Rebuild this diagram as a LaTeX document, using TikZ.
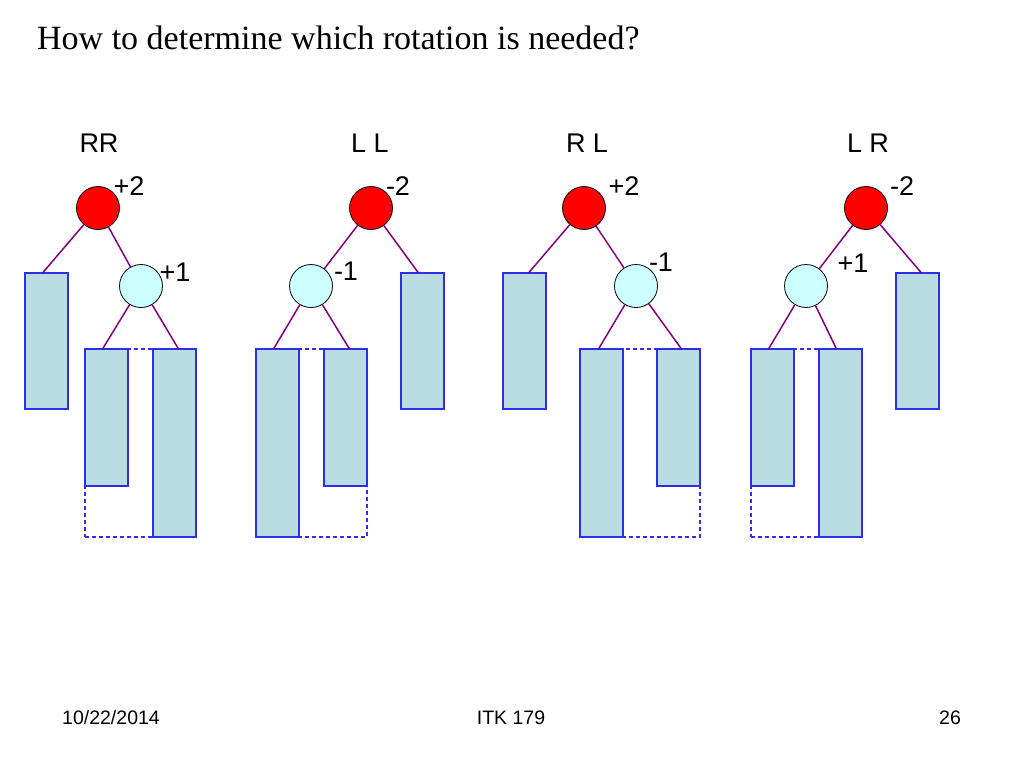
\documentclass[tikz,border=0pt]{standalone}
\usepackage{fontspec}
\setmainfont{Liberation Serif}
\newfontfamily\lsans{Liberation Sans}
\usetikzlibrary{fit}
\definecolor{edgepurple}{HTML}{800080}
\definecolor{rootred}{HTML}{FF0000}
\definecolor{kidcyan}{HTML}{CCFFFF}
\definecolor{boxfill}{HTML}{B9DDE2}
\definecolor{boxline}{HTML}{2E2EE6}
\tikzset{
  rootnode/.style={circle, draw=black, line width=0.8pt, fill=rootred, minimum size=43pt, inner sep=0pt},
  kidnode/.style={circle, draw=black, line width=0.8pt, fill=kidcyan, minimum size=43pt, inner sep=0pt},
  subtree/.style={rectangle, draw=boxline, line width=1.3pt, fill=boxfill, minimum width=43pt, inner sep=0pt, outer sep=0pt, anchor=north west},
  shorttree/.style={subtree, minimum height=137pt},
  longtree/.style={subtree, minimum height=188pt},
  dashbox/.style={rectangle, draw=boxline, line width=1.2pt, inner sep=0pt, dash pattern=on 4pt off 3pt},
  edge/.style={draw=edgepurple, line width=1.5pt},
  lbl/.style={font=\lsans\fontsize{27}{30}\selectfont, inner sep=0pt},
  foot/.style={font=\lsans\fontsize{19.5}{22}\selectfont, inner sep=0pt}
}
\begin{document}
\begin{tikzpicture}[x=1pt,y=-1pt]
\useasboundingbox (0,0) rectangle (1024,768);
\node[anchor=west, inner sep=0pt, font=\fontsize{34}{40}\selectfont] (title) at (37,38) {How to determine which rotation is needed?};

% ---------- RR ----------
\node[lbl] (rrlab) at (99,143) {RR};
\node[subtree, minimum height=136pt] (rrA) at (25,273) {};
\node[shorttree] (rrB) at (85,349) {};
\node[longtree] (rrC) at (153,349) {};
\node[dashbox, fit=(rrB)(rrC)] (rrD) {};
\node[rootnode] (rrR) at (98,208) {};
\node[kidnode] (rrK) at (141,286) {};
\node[lbl] (rrRb) at (129,186) {+2};
\node[lbl] (rrKb) at (175,272) {+1};
\draw[edge] (rrR) -- ([xshift=-4pt]rrA.north);
\draw[edge] (rrR) -- (rrK);
\draw[edge] (rrK) -- ([xshift=-4pt]rrB.north);
\draw[edge] (rrK) -- ([xshift=4pt]rrC.north);

% ---------- LL ----------
\node[lbl] (lllab) at (370,143) {L L};
\node[subtree, minimum height=136pt] (llA) at (401,273) {};
\node[longtree] (llB) at (256,349) {};
\node[shorttree] (llC) at (324,349) {};
\node[dashbox, fit=(llB)(llC)] (llD) {};
\node[rootnode] (llR) at (371,208) {};
\node[kidnode] (llK) at (311,286) {};
\node[lbl] (llRb) at (398,186) {-2};
\node[lbl] (llKb) at (346,271) {-1};
\draw[edge] (llR) -- ([xshift=-4pt]llA.north);
\draw[edge] (llR) -- (llK);
\draw[edge] (llK) -- ([xshift=-4pt]llB.north);
\draw[edge] (llK) -- ([xshift=4pt]llC.north);

% ---------- RL ----------
\node[lbl] (rllab) at (587,143) {R L};
\node[subtree, minimum height=136pt] (rlA) at (503,273) {};
\node[longtree] (rlB) at (580,349) {};
\node[shorttree] (rlC) at (657,349) {};
\node[dashbox, fit=(rlB)(rlC)] (rlD) {};
\node[rootnode] (rlR) at (584,208) {};
\node[kidnode] (rlK) at (636,286) {};
\node[lbl] (rlRb) at (624,186) {+2};
\node[lbl] (rlKb) at (661,262) {-1};
\draw[edge] (rlR) -- ([xshift=4pt]rlA.north);
\draw[edge] (rlR) -- (rlK);
\draw[edge] (rlK) -- ([xshift=-3pt]rlB.north);
\draw[edge] (rlK) -- ([xshift=3pt]rlC.north);

% ---------- LR ----------
\node[lbl] (lrlab) at (868,143) {L R};
\node[subtree, minimum height=136pt] (lrA) at (896,273) {};
\node[shorttree] (lrB) at (751,349) {};
\node[longtree] (lrC) at (819,349) {};
\node[dashbox, fit=(lrB)(lrC)] (lrD) {};
\node[rootnode] (lrR) at (866,208) {};
\node[kidnode] (lrK) at (806,286) {};
\node[lbl] (lrRb) at (902,186) {-2};
\node[lbl] (lrKb) at (853,263) {+1};
\draw[edge] (lrR) -- ([xshift=4pt]lrA.north);
\draw[edge] (lrR) -- (lrK);
\draw[edge] (lrK) -- ([xshift=-4pt]lrB.north);
\draw[edge] (lrK) -- ([xshift=-4pt]lrC.north);

% ---------- footer ----------
\node[foot] (date) at (111,718) {10/22/2014};
\node[foot] (course) at (511,718) {ITK 179};
\node[foot] (page) at (950,718) {26};
\end{tikzpicture}
\end{document}
